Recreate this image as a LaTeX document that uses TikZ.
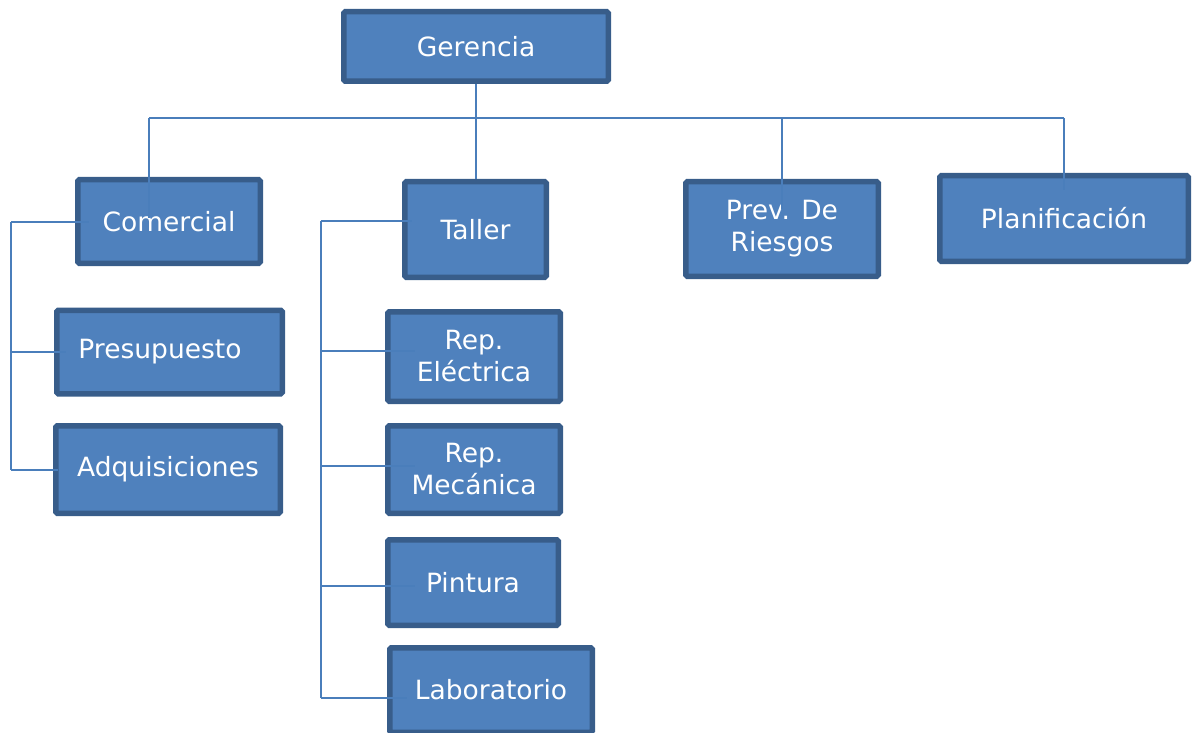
\documentclass[tikz,border=0pt]{standalone}
\usepackage{fontspec}
\setmainfont{DejaVu Sans}
\definecolor{boxfill}{HTML}{4F81BD}
\definecolor{boxedge}{HTML}{385D8A}
\definecolor{wire}{HTML}{4A7EBB}
\begin{document}
\begin{tikzpicture}[x=1pt,y=-1pt,
  orgbox/.style={draw=boxedge, fill=boxfill, line width=5.5pt, rounded corners=1.5pt,
    text=white, align=center, inner sep=0pt,
    font=\fontsize{26.5}{32}\selectfont},
  wireline/.style={draw=wire, line width=2pt}]
\useasboundingbox (0,0) rectangle (1192,733);

% boxes
\node[orgbox, minimum width=264.5pt, minimum height=69.5pt] (ger) at (476,46.5) {Gerencia};
\node[orgbox, minimum width=182.5pt, minimum height=83.5pt] (com) at (169,221.5) {Comercial};
\node[orgbox, minimum width=141.5pt, minimum height=95.5pt] (tal) at (475.5,229.5) {Taller};
\node[orgbox, minimum width=192.5pt, minimum height=94.5pt] (prev) at (782,229) {Prev. De\\Riesgos};
\node[orgbox, minimum width=248.5pt, minimum height=85.5pt] (plan) at (1064,218.5) {Planificación};
\node[orgbox, minimum width=225.5pt, minimum height=83.5pt] (pre) at (169.5,352) {Presupuesto\hspace*{19pt}};
\node[orgbox, minimum width=224.5pt, minimum height=87.5pt] (adq) at (168,469.5) {Adquisiciones};
\node[orgbox, minimum width=172.5pt, minimum height=89.5pt] (ele) at (474,356.5) {Rep.\\Eléctrica};
\node[orgbox, minimum width=172.5pt, minimum height=87.5pt] (mec) at (474,469.5) {Rep.\\Mecánica};
\node[orgbox, minimum width=170.5pt, minimum height=85.5pt] (pin) at (473,582.5) {Pintura};
\node[orgbox, minimum width=202.5pt, minimum height=84.5pt] (lab) at (491,690) {Laboratorio};

% junction points of the tree
\coordinate (barL) at (149,118);
\coordinate (barR) at (1064,118);
\coordinate (cL) at (11,0);
\coordinate (tTop) at (321,221);
\coordinate (t1) at (321,351);
\coordinate (t2) at (321,466);
\coordinate (t3) at (321,586);
\coordinate (tBot) at (321,698);

% top level
\draw[wireline] (ger.south) -- (ger.south |- tal.north);
\draw[wireline] (barL) -- (barR);
\draw[wireline] (barL) -- ([yshift=4pt]barL |- com.center);
\draw[wireline] (prev.center |- barL) -- ([yshift=-30pt]prev.north);
\draw[wireline] (plan.center |- barL) -- ([yshift=-17pt]plan.north);

% Comercial branch
\draw[wireline] (com.center -| cL) -- (adq.center -| cL);
\draw[wireline] (com.center -| cL) -- ([xshift=14pt]com.west);
\draw[wireline] (pre.center -| cL) -- ([xshift=12pt]pre.west);
\draw[wireline] (adq.center -| cL) -- ([xshift=5pt]adq.west);

% Taller branch
\draw[wireline] (tTop) -- (tBot);
\draw[wireline] (tTop) -- ([xshift=10pt]tal.west |- tTop);
\draw[wireline] (t1) -- ([xshift=30pt]ele.west |- t1);
\draw[wireline] (t2) -- ([xshift=30pt]mec.west |- t2);
\draw[wireline] (t3) -- ([xshift=30pt]pin.west |- t3);
\draw[wireline] (tBot) -- ([xshift=20pt]lab.west |- tBot);
\end{tikzpicture}
\end{document}
